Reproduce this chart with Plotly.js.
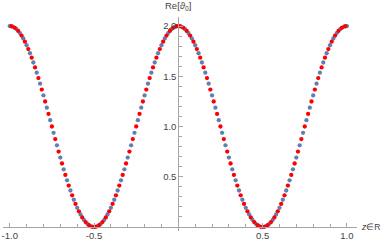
<!DOCTYPE html>
<html>
<head>
<meta charset="utf-8">
<script src="https://cdn.plot.ly/plotly-3.0.1.min.js"></script>
<style>html,body{margin:0;padding:0;background:#fff;}#chart{width:382px;height:240px;}</style>
</head>
<body>
<div id="chart"></div>
<script>
const blueX = [-1,-0.98,-0.96,-0.94,-0.92,-0.9,-0.88,-0.86,-0.84,-0.82,-0.8,-0.78,-0.76,-0.74,-0.72,-0.7,-0.68,-0.66,-0.64,-0.62,-0.6,-0.58,-0.56,-0.54,-0.52,-0.5,-0.48,-0.46,-0.44,-0.42,-0.4,-0.38,-0.36,-0.34,-0.32,-0.3,-0.28,-0.26,-0.24,-0.22,-0.2,-0.18,-0.16,-0.14,-0.12,-0.1,-0.08,-0.06,-0.04,-0.02,0,0.02,0.04,0.06,0.08,0.1,0.12,0.14,0.16,0.18,0.2,0.22,0.24,0.26,0.28,0.3,0.32,0.34,0.36,0.38,0.4,0.42,0.44,0.46,0.48,0.5,0.52,0.54,0.56,0.58,0.6,0.62,0.64,0.66,0.68,0.7,0.72,0.74,0.76,0.78,0.8,0.82,0.84,0.86,0.88,0.9,0.92,0.94,0.96,0.98,1];
const blueY = [2.000,1.992,1.969,1.930,1.876,1.809,1.729,1.637,1.536,1.426,1.309,1.187,1.063,0.937,0.813,0.691,0.574,0.464,0.363,0.271,0.191,0.124,0.070,0.031,0.008,0.000,0.008,0.031,0.070,0.124,0.191,0.271,0.363,0.464,0.574,0.691,0.813,0.937,1.063,1.187,1.309,1.426,1.536,1.637,1.729,1.809,1.876,1.930,1.969,1.992,2.000,1.992,1.969,1.930,1.876,1.809,1.729,1.637,1.536,1.426,1.309,1.187,1.063,0.937,0.813,0.691,0.574,0.464,0.363,0.271,0.191,0.124,0.070,0.031,0.008,0.000,0.008,0.031,0.070,0.124,0.191,0.271,0.363,0.464,0.574,0.691,0.813,0.937,1.063,1.187,1.309,1.426,1.536,1.637,1.729,1.809,1.876,1.930,1.969,1.992,2.000];
const redX = [-0.99,-0.97,-0.95,-0.93,-0.91,-0.89,-0.87,-0.85,-0.83,-0.81,-0.79,-0.77,-0.75,-0.73,-0.71,-0.69,-0.67,-0.65,-0.63,-0.61,-0.59,-0.57,-0.55,-0.53,-0.51,-0.49,-0.47,-0.45,-0.43,-0.41,-0.39,-0.37,-0.35,-0.33,-0.31,-0.29,-0.27,-0.25,-0.23,-0.21,-0.19,-0.17,-0.15,-0.13,-0.11,-0.09,-0.07,-0.05,-0.03,-0.01,0.01,0.03,0.05,0.07,0.09,0.11,0.13,0.15,0.17,0.19,0.21,0.23,0.25,0.27,0.29,0.31,0.33,0.35,0.37,0.39,0.41,0.43,0.45,0.47,0.49,0.51,0.53,0.55,0.57,0.59,0.61,0.63,0.65,0.67,0.69,0.71,0.73,0.75,0.77,0.79,0.81,0.83,0.85,0.87,0.89,0.91,0.93,0.95,0.97,0.99];
const redY = [1.998,1.982,1.951,1.905,1.844,1.771,1.685,1.588,1.482,1.368,1.249,1.125,1.000,0.875,0.751,0.632,0.518,0.412,0.315,0.229,0.156,0.095,0.049,0.018,0.002,0.002,0.018,0.049,0.095,0.156,0.229,0.315,0.412,0.518,0.632,0.751,0.875,1.000,1.125,1.249,1.368,1.482,1.588,1.685,1.771,1.844,1.905,1.951,1.982,1.998,1.998,1.982,1.951,1.905,1.844,1.771,1.685,1.588,1.482,1.368,1.249,1.125,1.000,0.875,0.751,0.632,0.518,0.412,0.315,0.229,0.156,0.095,0.049,0.018,0.002,0.002,0.018,0.049,0.095,0.156,0.229,0.315,0.412,0.518,0.632,0.751,0.875,1.000,1.125,1.249,1.368,1.482,1.588,1.685,1.771,1.844,1.905,1.951,1.982,1.998];
const xTickVals = [-1, -0.5, 0.5, 1];
const xTickText = ["-1.0", "-0.5", "0.5", "1.0"];
const yTickVals = [0.5, 1, 1.5, 2];
const yTickText = ["0.5", "1.0", "1.5", "2.0"];
const xLabel = "<i>z</i>\u2208R";
const yLabel = "Re[<i>\u03d1</i><sub>0</sub>]";

const xRange = [-1.04, 1.06];
const yRange = [-0.04, 2.09];
const axisColor = "#a6a6a6";
const font = {family: "Liberation Sans, Arial, sans-serif", size: 9.5, color: "#444"};
const labelFont = {family: "Liberation Sans, Arial, sans-serif", size: 8.5, color: "#444"};

const traces = [
  {x: blueX, y: blueY, type: "scatter", mode: "markers", cliponaxis: false,
   marker: {color: "#5e81b5", size: 4.3}},
  {x: redX, y: redY, type: "scatter", mode: "markers", cliponaxis: false,
   marker: {color: "#ff0000", size: 4.3}}
];

const layout = {
  width: 382, height: 240,
  margin: {l: 3, r: 25, t: 17, b: 9, pad: 0},
  paper_bgcolor: "#fff", plot_bgcolor: "#fff",
  showlegend: false,
  font: font,
  xaxis: {
    range: xRange, anchor: "free", position: (0 - yRange[0]) / (yRange[1] - yRange[0]),
    showgrid: false, zeroline: false, showline: true, linecolor: axisColor, linewidth: 1,
    tickmode: "array", tickvals: xTickVals, ticktext: xTickText,
    ticks: "inside", ticklen: 4, tickcolor: axisColor, tickwidth: 1,
    minor: {tickmode: "array", tickvals: [-0.9,-0.8,-0.7,-0.6,-0.4,-0.3,-0.2,-0.1,0.1,0.2,0.3,0.4,0.6,0.7,0.8,0.9], ticks: "inside", ticklen: 2.5, tickcolor: axisColor, showgrid: false},
    tickfont: font, fixedrange: true
  },
  yaxis: {
    range: yRange, anchor: "free", position: (0 - xRange[0]) / (xRange[1] - xRange[0]),
    showgrid: false, zeroline: false, showline: true, linecolor: axisColor, linewidth: 1,
    tickmode: "array", tickvals: yTickVals, ticktext: yTickText,
    ticks: "inside", ticklen: 4, tickcolor: axisColor, tickwidth: 1,
    minor: {tickmode: "array", tickvals: [0.1,0.2,0.3,0.4,0.6,0.7,0.8,0.9,1.1,1.2,1.3,1.4,1.6,1.7,1.8,1.9], ticks: "inside", ticklen: 2.5, tickcolor: axisColor, showgrid: false},
    tickfont: font, fixedrange: true
  },
  annotations: [
    {text: yLabel, xref: "paper", yref: "paper", x: (0 - xRange[0]) / (xRange[1] - xRange[0]), y: 1,
     xanchor: "center", yanchor: "bottom", yshift: 3, showarrow: false, font: font},
    {text: xLabel, xref: "paper", yref: "paper", x: 1, y: (0 - yRange[0]) / (yRange[1] - yRange[0]),
     xanchor: "left", yanchor: "middle", xshift: 2, showarrow: false, font: labelFont}
  ]
};

Plotly.newPlot("chart", traces, layout, {displayModeBar: false, staticPlot: true});
</script>
</body>
</html>
